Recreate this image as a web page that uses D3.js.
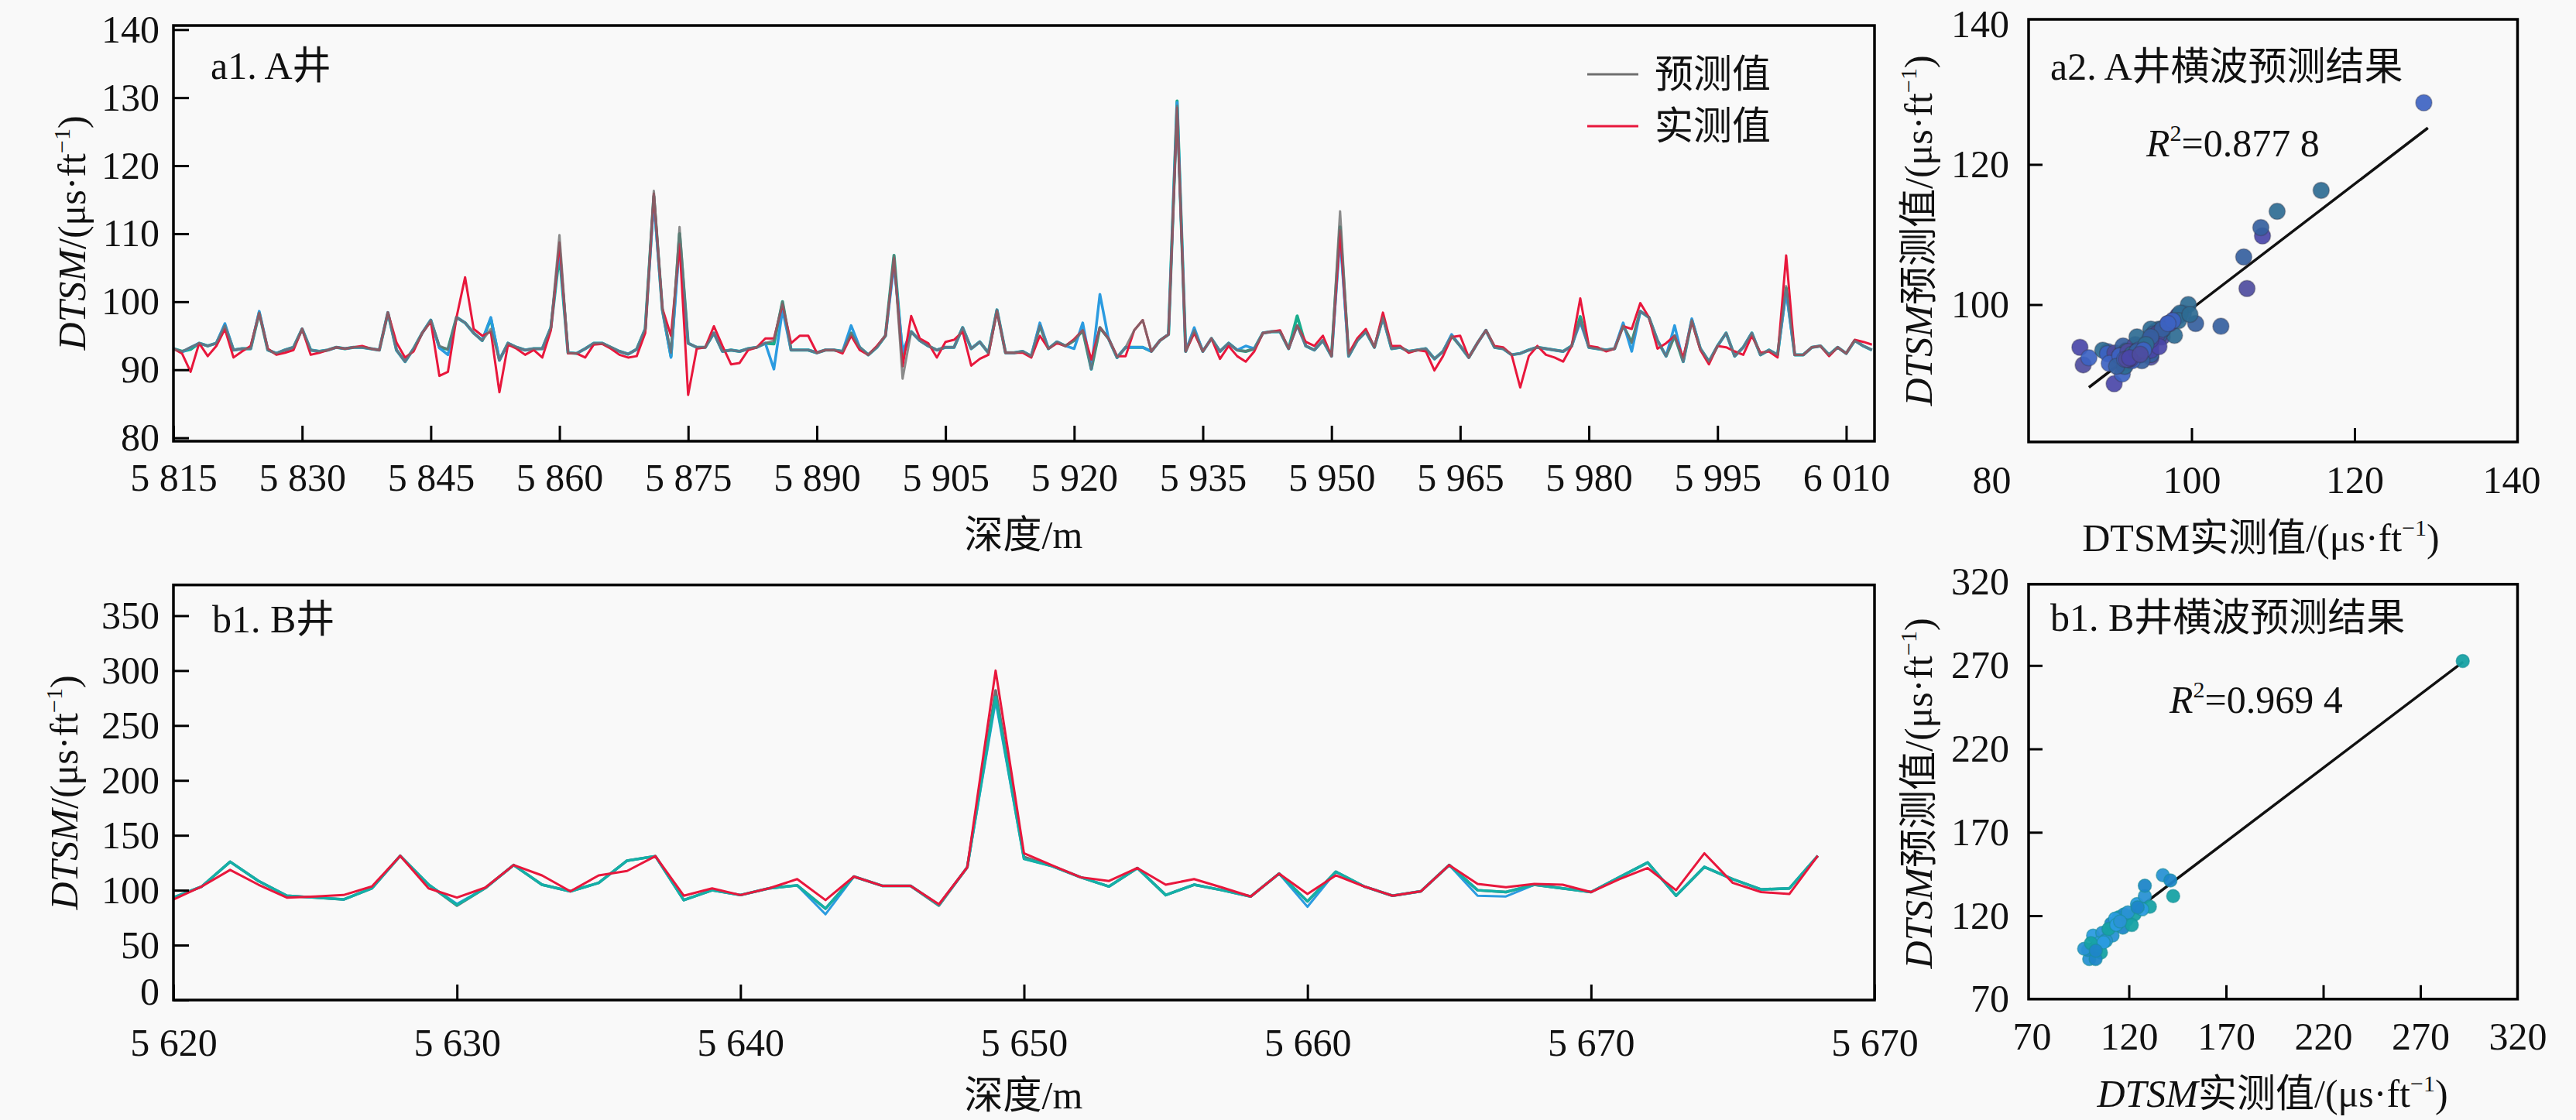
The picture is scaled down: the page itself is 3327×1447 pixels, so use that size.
<!DOCTYPE html>
<html>
<head>
<meta charset="utf-8">
<script src="https://cdn.jsdelivr.net/npm/d3@7"></script>
<style>
  body { margin: 0; background: #f9f9f9; }
  svg { display: block; font-family: "Liberation Serif", "Times New Roman", "DejaVu Serif", "Noto Sans CJK SC", serif; }
</style>
</head>
<body>
<script>
// ---- A井 (1 m 采样, 从 5815 m 起) ----
const startA = 5815
const measA = [
  93.1,92.4,89.7,93.9,92.0,93.5,96.0,91.8,92.7,93.5,
  98.3,93.1,92.2,92.5,92.9,96.0,92.2,92.5,92.9,93.3,
  93.1,93.3,93.5,93.1,92.9,98.4,94.0,91.8,92.7,95.4,
  97.1,89.1,89.7,97.7,103.6,96.0,95.0,95.6,86.7,93.7,
  93.1,92.2,92.9,91.8,95.8,108.7,92.4,92.4,91.8,93.7,
  93.8,93.1,92.2,91.8,92.0,95.4,115.9,99.0,95.0,108.5,
  86.3,93.1,93.3,96.4,93.5,90.8,91.0,92.9,93.3,94.6,
  94.6,99.6,93.9,95.0,95.0,92.5,92.9,92.9,92.4,95.0,
  92.9,92.2,93.5,95.0,106.4,90.5,97.9,94.6,93.9,91.8,
  94.1,94.4,95.6,90.6,91.6,92.2,98.6,92.5,92.5,92.5,
  91.8,95.0,93.1,93.9,93.5,94.5,95.8,91.5,96.2,94.6,
  92.0,92.0,95.8,97.3,92.7,94.3,95.2,128.5,92.7,95.4,
  92.7,94.6,91.6,93.5,92.0,91.2,92.7,95.4,95.6,95.8,
  93.1,96.5,94.1,93.5,95.0,92.0,110.5,92.4,94.6,96.0,
  93.3,98.4,93.5,93.5,92.5,92.9,92.7,89.9,92.0,94.8,
  95.0,91.8,93.9,95.8,93.5,93.3,92.2,87.4,92.0,93.5,
  92.2,91.8,91.2,93.5,100.5,93.5,93.3,92.7,93.1,96.4,
  96.0,99.8,97.7,93.1,93.9,95.0,91.8,97.1,92.9,90.8,
  93.5,93.3,92.7,92.2,95.0,92.5,92.7,91.8,106.8,92.2,
  92.2,93.3,93.5,92.0,93.3,92.4,94.4,94.1,93.7
]
const predA = [
  93.1,92.7,93.3,93.9,93.5,93.9,96.5,92.9,93.1,93.1,
  98.4,92.9,92.4,92.9,93.3,96.0,92.9,92.7,92.9,93.3,
  93.1,93.3,93.3,93.1,92.9,98.4,92.9,91.2,93.1,95.4,
  97.3,93.5,93.0,97.7,96.9,95.4,94.3,96.0,91.4,93.9,
  93.3,92.9,93.1,93.1,96.2,109.8,92.5,92.4,93.1,93.9,
  93.9,93.3,92.7,92.3,93.0,96.0,116.3,98.8,92.5,111.0,
  93.9,93.3,93.3,95.4,92.7,92.9,92.7,93.1,93.3,93.9,
  94.3,100.0,92.9,92.9,92.9,92.5,92.9,92.9,92.7,95.4,
  93.3,92.2,93.3,95.0,106.8,88.7,95.6,94.3,93.5,92.9,
  93.3,93.3,96.2,93.1,94.1,92.5,98.8,92.5,92.5,92.7,
  92.0,96.5,93.1,94.1,93.5,94.3,95.8,90.1,96.2,94.6,
  91.8,93.3,95.8,97.3,92.7,94.3,95.2,128.8,92.7,95.8,
  92.7,94.6,92.7,93.9,92.9,92.7,93.1,95.4,95.6,95.6,
  93.1,96.5,93.5,92.9,94.3,92.0,113.3,92.0,94.3,95.6,
  93.3,97.7,93.1,93.3,92.7,92.9,93.1,91.6,92.7,95.0,
  93.5,91.8,93.9,95.8,93.3,93.1,92.2,92.4,92.9,93.3,
  93.1,92.9,92.7,93.5,97.3,93.3,93.1,92.9,93.1,96.5,
  94.0,98.6,97.7,94.3,92.0,95.0,91.2,97.3,93.1,91.2,
  93.5,95.4,92.0,93.3,95.4,92.2,92.9,92.2,102.3,92.2,
  92.2,93.3,93.5,92.2,93.3,92.4,94.3,93.5,92.9
]
// the two coloured traces that sit under the grey one
const blueA = [
  93.1,92.6,93.3,93.9,93.5,93.9,96.8,92.9,93.1,93.1,
  98.6,92.9,92.4,92.9,93.3,96.0,92.9,92.7,92.9,93.3,
  93.1,93.3,93.3,93.1,92.9,98.4,92.9,91.2,93.1,95.4,
  97.3,93.2,92.2,97.7,96.9,95.4,94.3,97.7,91.4,93.9,
  93.3,92.9,93.1,93.1,96.2,108.0,92.5,92.4,93.1,93.9,
  93.9,93.3,92.7,92.3,93.0,96.0,115.0,98.8,91.8,108.5,
  93.9,93.3,93.3,95.4,92.7,92.9,92.7,93.1,93.3,93.9,
  90.1,98.8,92.9,92.9,92.9,92.5,92.9,92.9,92.7,96.5,
  93.3,92.2,93.3,95.0,105.5,92.7,95.6,94.3,93.5,92.9,
  93.3,93.3,96.2,93.1,94.1,92.5,98.8,92.5,92.5,92.7,
  92.0,96.9,93.1,94.1,93.5,93.1,96.9,90.1,101.1,94.6,
  91.8,93.3,93.3,93.3,92.7,94.3,95.2,129.3,92.7,96.2,
  92.7,94.6,92.7,93.9,92.9,93.5,93.1,95.4,95.6,95.6,
  93.1,96.5,93.5,92.9,94.3,92.0,109.5,92.0,94.3,95.6,
  93.3,97.7,93.1,93.3,92.7,92.9,93.1,91.6,92.7,95.2,
  93.5,91.8,93.9,95.8,93.3,93.1,92.2,92.4,92.9,93.3,
  93.1,92.9,92.7,93.5,97.0,93.3,93.1,92.9,93.1,96.9,
  92.7,98.6,97.7,94.3,92.0,96.5,91.2,97.5,93.1,91.2,
  93.5,95.4,92.0,93.3,95.4,92.2,92.9,92.2,101.5,92.2,
  92.2,93.3,93.5,92.2,93.3,92.4,94.3,93.5,92.9
]
const greenA = [
  93.1,92.7,93.0,93.9,93.5,93.9,96.5,92.9,93.1,93.1,
  98.4,92.9,92.4,92.9,93.3,96.0,92.9,92.7,92.9,93.3,
  93.1,93.3,93.3,93.1,92.9,98.4,92.9,91.2,93.1,95.4,
  97.3,93.3,93.0,97.7,96.9,95.4,94.3,97.5,91.4,93.9,
  93.3,92.9,93.1,93.1,96.2,107.0,92.5,92.4,93.1,93.9,
  93.9,93.3,92.7,92.3,93.0,96.0,115.5,98.8,92.0,110.0,
  93.9,93.3,93.3,95.4,92.7,92.9,92.7,93.1,93.3,93.9,
  93.8,100.0,92.9,92.9,92.9,92.5,92.9,92.9,92.7,95.4,
  93.3,92.2,93.3,95.0,106.8,92.0,95.6,94.3,93.5,92.9,
  93.3,93.3,96.2,93.1,94.1,92.5,98.8,92.5,92.5,92.7,
  92.0,96.5,93.1,94.1,93.5,94.3,95.8,90.1,96.2,94.6,
  91.8,93.3,93.3,93.3,92.7,94.3,95.2,129.5,92.7,95.8,
  92.7,94.6,92.7,93.9,92.9,92.7,93.1,95.4,95.6,95.6,
  93.1,97.9,93.5,92.9,94.3,92.0,111.0,92.0,94.3,95.6,
  93.3,97.7,93.1,93.3,92.7,92.9,93.1,91.6,92.7,95.0,
  93.5,91.8,93.9,95.8,93.3,93.1,92.2,92.4,92.9,93.3,
  93.1,92.9,92.7,93.5,97.8,93.3,93.1,92.9,93.1,96.5,
  94.0,98.6,97.7,94.3,92.0,95.0,91.2,97.3,93.1,91.2,
  93.5,95.4,92.0,93.3,95.4,92.2,92.9,92.2,102.0,92.2,
  92.2,93.3,93.5,92.2,93.3,92.4,94.3,93.5,92.9
]

// ---- B井 (1 m 采样, 从 5620 m 起) ----
const startB = 5620
const measB = [
  91.6,103.4,118.5,105.0,93.3,94.3,95.6,103.4,131.3,101.7,
  93.3,102.4,122.9,113.5,99.0,113.5,117.5,131.0,95.0,101.7,
  95.6,101.7,110.1,91.0,112.4,104.0,104.0,87.2,120.9,300.0,
  133.6,122.5,111.8,108.4,120.2,105.0,110.1,102.4,94.3,115.1,
  96.6,113.5,103.4,95.0,99.0,122.9,105.7,102.7,105.7,105.0,
  98.3,110.1,120.2,100.0,133.6,106.7,98.3,96.6,131.3
]
const predB = [
  93.3,103.4,125.9,108.4,95.0,93.3,91.6,101.7,131.3,105.0,
  86.0,102.0,122.9,105.0,99.0,106.7,126.9,131.0,91.0,100.0,
  95.6,101.7,104.4,83.2,112.4,104.0,104.0,86.0,120.9,282.0,
  130.3,121.9,111.8,103.4,120.2,95.6,105.0,100.0,94.3,115.1,
  89.9,116.8,103.4,95.0,99.0,122.9,100.0,98.3,105.0,101.7,
  98.3,111.8,125.2,95.0,121.2,110.1,100.7,101.7,131.3
]
const greenB = [
  93.3,103.4,125.9,108.4,95.0,93.3,91.6,101.7,131.3,105.0,
  86.5,102.0,122.9,105.0,99.0,106.7,126.9,131.0,91.0,100.0,
  95.6,101.7,104.4,83.2,112.4,104.0,104.0,86.5,120.9,276.0,
  128.6,121.9,111.8,103.4,120.2,95.6,105.0,100.0,94.3,115.1,
  89.9,116.8,103.4,95.0,99.0,122.9,100.0,98.3,105.0,101.7,
  98.3,111.8,125.2,95.0,121.2,110.1,100.7,101.7,131.3
]
const blueB = [
  93.3,103.4,125.9,108.4,95.0,93.3,91.6,101.7,131.3,105.0,
  87.5,102.0,122.9,105.0,99.0,106.7,126.9,131.0,91.0,100.0,
  95.6,101.7,104.4,78.1,112.4,104.0,104.0,86.5,120.9,272.0,
  128.6,121.9,111.8,103.4,120.2,95.6,105.0,100.0,94.3,115.1,
  84.9,116.8,103.4,95.0,99.0,122.9,95.0,94.3,105.0,101.7,
  98.3,111.8,125.2,95.0,121.2,110.1,100.7,101.7,131.3
]

// ---- B井 交会图 (实测, 预测) ----
const measBs = [99.6,99.0,105.6,101.6,106.3,110.9,114.9,118.9,111.6,116.9,122.9,124.2,128.2,128.2,130.8,126.9,137.5,141.4,142.8,104.3,108.2,117.4,121.5,112.9,97.0,102.9,109.5,113.5,119.5,124.5,100.5,107.0,115.5,103.0,291.8]
const predBs = [94.0,99.5,97.9,108.1,109.7,115.2,119.1,117.5,108.1,112.8,120.7,127.0,131.7,138.0,125.4,123.8,144.3,141.1,131.7,103.4,105.0,120.7,114.4,118.3,100.2,94.0,112.0,114.5,122.0,125.0,103.5,104.0,116.5,99.0,272.7]

// 拟合直线 (斜率, 截距) 与端点
const fitA = [0.89, 10.4], fitXA = [87.4, 129.0]
const fitB = [0.883, 14.3], fitXB = [98.0, 292.0]

// ticks
const ticksXA = [5815,5830,5845,5860,5875,5890,5905,5920,5935,5950,5965,5980,5995,6010]
const ticksYA = [80,90,100,110,120,130,140]
const ticksXB = [5620,5630,5640,5650,5660,5670,5680]
const labelsXB = ["5 620","5 630","5 640","5 650","5 660","5 670","5 670"]
const ticksYB = [0,50,100,150,200,250,300,350]
const ticksSA = [80,100,120,140]
const ticksSB = [70,120,170,220,270,320]

const depthA = d3.range(startA, startA + predA.length)
const depthB = d3.range(startB, startB + measB.length)

const W = 3327, H = 1447
const svg = d3.select("body").append("svg").attr("width", W).attr("height", H)

const spaced = d3.formatLocale({ decimal: ".", thousands: " ", grouping: [3], currency: ["", ""] }).format(",")
const serif = "Liberation Serif, Times New Roman, DejaVu Serif, serif"

const C = { red: "#e8173c", gray: "#6f6f6f", blue: "#2b9be0", green: "#19ad8c", teal: "#14b0a6" }

// titles with italic part and superscript
function unitText(g, parts) {
  const t = g.append("text").attr("font-size", 50).attr("fill", "#111")
  parts.forEach(p => {
    const s = t.append("tspan").text(p.t)
    if (p.it) s.attr("font-style", "italic")
    if (p.sup) s.attr("font-size", 30).attr("dy", -20)
    if (p.down) s.attr("dy", 20)
  })
  return t
}
const unitParts = [{ t: "/(μs·ft" }, { t: "−1", sup: true }, { t: ")", down: true }]

function frame(x0, y0, x1, y1) {
  svg.append("rect").attr("x", x0).attr("y", y0).attr("width", x1 - x0).attr("height", y1 - y0)
    .attr("fill", "none").attr("stroke", "#000").attr("stroke-width", 3.5)
}

function axes(x, y, xt, yt, opts) {
  const [x0, x1] = x.range(), [y1, y0] = y.range()
  const gx = svg.append("g").attr("transform", `translate(0,${y1})`)
    .call(d3.axisBottom(x).tickValues(xt).tickSizeInner(-opts.tick).tickSizeOuter(0)
      .tickPadding(opts.padX).tickFormat(opts.fx))
  const gy = svg.append("g").attr("transform", `translate(${x0},0)`)
    .call(d3.axisLeft(y).tickValues(yt).tickSizeInner(-opts.tick).tickSizeOuter(0)
      .tickPadding(opts.padY).tickFormat(opts.fy))
  ;[gx, gy].forEach(g => {
    g.attr("font-family", serif)
    g.select(".domain").remove()
    g.selectAll("line").attr("stroke", "#000").attr("stroke-width", 3)
    g.selectAll("text").attr("font-size", 50).attr("fill", "#111")
  })
  frame(x0, y0, x1, y1)
  return { gx, gy }
}

function drawLine(x, y, depth, vals, color, w, op) {
  svg.append("path").datum(vals)
    .attr("fill", "none").attr("stroke", color).attr("stroke-width", w)
    .attr("stroke-opacity", op || 1)
    .attr("stroke-linejoin", "round")
    .attr("d", d3.line().x((d, i) => x(depth[i])).y(d => y(d)))
}

// ===== a1 =====
const xA = d3.scaleLinear([5815, 6013.3], [224, 2421])
const yA = d3.scaleLinear([79.5, 140.6], [570, 33])
drawLine(xA, yA, depthA, greenA, C.green, 4)
drawLine(xA, yA, depthA, blueA, C.blue, 3.5)
drawLine(xA, yA, depthA, measA, C.red, 3)
drawLine(xA, yA, depthA, predA, C.gray, 3, 0.8)
axes(xA, yA, ticksXA, ticksYA, { tick: 20, padX: 28, padY: 18, fx: spaced, fy: d3.format("d") })

svg.append("text").attr("x", 272).attr("y", 102).attr("font-size", 50).attr("fill", "#111").text("a1. A井")

const yTitleA = svg.append("g").attr("transform", "translate(110,301) rotate(-90)")
unitText(yTitleA, [{ t: "DTSM", it: true }, ...unitParts]).attr("text-anchor", "middle")
svg.append("text").attr("x", 1322).attr("y", 708).attr("text-anchor", "middle")
  .attr("font-size", 50).attr("fill", "#111").text("深度/m")

// legend
const legend = [{ name: "预测值", color: C.gray, y: 96 }, { name: "实测值", color: C.red, y: 163 }]
legend.forEach(l => {
  svg.append("line").attr("x1", 2050).attr("x2", 2116).attr("y1", l.y).attr("y2", l.y)
    .attr("stroke", l.color).attr("stroke-width", 3)
  svg.append("text").attr("x", 2137).attr("y", l.y).attr("dominant-baseline", "central")
    .attr("font-size", 50).attr("fill", "#111").text(l.name)
})

// ===== b1 line =====
const xB = d3.scaleLinear([5620, 5680], [224, 2421])
const yB = d3.scaleLinear([0, 378], [1292, 755.7])
drawLine(xB, yB, depthB, predB, C.gray, 3.5)
drawLine(xB, yB, depthB, blueB, C.blue, 3)
drawLine(xB, yB, depthB, greenB, C.teal, 3.5)
drawLine(xB, yB, depthB, measB, C.red, 3)
const axLB = axes(xB, yB, ticksXB, ticksYB, { tick: 20, padX: 36, padY: 18, fx: (d, i) => labelsXB[i], fy: d3.format("d") })
axLB.gy.selectAll(".tick").filter(d => d === 0).select("text").attr("dy", "0.1em")

svg.append("text").attr("x", 274).attr("y", 817).attr("font-size", 50).attr("fill", "#111").text("b1. B井")
const yTitleB = svg.append("g").attr("transform", "translate(100,1024) rotate(-90)")
unitText(yTitleB, [{ t: "DTSM", it: true }, ...unitParts]).attr("text-anchor", "middle")
svg.append("text").attr("x", 1322).attr("y", 1432).attr("text-anchor", "middle")
  .attr("font-size", 50).attr("fill", "#111").text("深度/m")

// ===== a2 scatter =====
const palA = ["#4a47a8", "#2e6b93", "#3d63c2", "#4e4c9e", "#355f9e"]
const xSA = d3.scaleLinear([80, 140], [2620, 3251.5])
const ySA = d3.scaleLinear([80.4, 140.7], [571, 25])
const axA = axes(xSA, ySA, ticksSA, ticksSA.slice(1), { tick: 18, padX: 30, padY: 25, fx: d3.format("d"), fy: d3.format("d") })
axA.gx.selectAll(".tick").filter(d => d === 80).select("line").remove()
axA.gx.selectAll(".tick").filter(d => d === 80).select("text").attr("dx", -48)
axA.gx.selectAll(".tick").filter(d => d === 140).select("line").remove()
axA.gx.selectAll(".tick").filter(d => d === 140).select("text").attr("dx", -8)
axA.gy.selectAll(".tick").filter(d => d === 140).select("line").remove()
svg.append("line")
  .attr("x1", xSA(fitXA[0])).attr("y1", ySA(fitA[0] * fitXA[0] + fitA[1]))
  .attr("x2", xSA(fitXA[1])).attr("y2", ySA(fitA[0] * fitXA[1] + fitA[1]))
  .attr("stroke", "#111").attr("stroke-width", 3.5)
svg.append("g").selectAll("circle").data(measA).join("circle")
  .attr("cx", d => xSA(d)).attr("cy", (d, i) => ySA(predA[i])).attr("r", 10.5)
  .attr("fill", (d, i) => palA[i % palA.length]).attr("fill-opacity", 0.92)
  .attr("stroke", "#3a3a4a").attr("stroke-opacity", 0.35).attr("stroke-width", 1.5)

svg.append("text").attr("x", 2648).attr("y", 103).attr("font-size", 50).attr("fill", "#111").text("a2. A井横波预测结果")
const r2A = svg.append("text").attr("x", 2772).attr("y", 202).attr("font-size", 50).attr("fill", "#111")
r2A.append("tspan").attr("font-style", "italic").text("R")
r2A.append("tspan").attr("font-size", 30).attr("dy", -20).text("2")
r2A.append("tspan").attr("dy", 20).text("=0.877 8")
const yTitleSA = svg.append("g").attr("transform", "translate(2495,298) rotate(-90)")
unitText(yTitleSA, [{ t: "DTSM", it: true }, { t: "预测值" }, ...unitParts]).attr("text-anchor", "middle")
unitText(svg.append("g"), [{ t: "DTSM" }, { t: "实测值" }, ...unitParts])
  .attr("x", 2920).attr("y", 712).attr("text-anchor", "middle")

// ===== b1 scatter =====
const palB = ["#2a92d4", "#1f86c8", "#17a2a4", "#2b9be0"]
const xSB = d3.scaleLinear([68.4, 320], [2620, 3251.5])
const ySB = d3.scaleLinear([70, 318.7], [1290.8, 754.8])
const axB = axes(xSB, ySB, ticksSB, ticksSB, { tick: 18, padX: 30, padY: 25, fx: d3.format("d"), fy: d3.format("d") })
axB.gx.selectAll(".tick").filter(d => d === 70 || d === 320).select("line").remove()
axB.gy.selectAll(".tick").filter(d => d === 70 || d === 320).select("line").remove()
svg.append("line")
  .attr("x1", xSB(fitXB[0])).attr("y1", ySB(fitB[0] * fitXB[0] + fitB[1]))
  .attr("x2", xSB(fitXB[1])).attr("y2", ySB(fitB[0] * fitXB[1] + fitB[1]))
  .attr("stroke", "#111").attr("stroke-width", 3.5)
svg.append("g").selectAll("circle").data(measBs).join("circle")
  .attr("cx", d => xSB(d)).attr("cy", (d, i) => ySB(predBs[i])).attr("r", 8.5)
  .attr("fill", (d, i) => palB[i % palB.length]).attr("fill-opacity", 0.95)
  .attr("stroke", "#1a8f9a").attr("stroke-opacity", 0.6).attr("stroke-width", 1.5)

svg.append("text").attr("x", 2648).attr("y", 815).attr("font-size", 50).attr("fill", "#111").text("b1. B井横波预测结果")
const r2B = svg.append("text").attr("x", 2802).attr("y", 921).attr("font-size", 50).attr("fill", "#111")
r2B.append("tspan").attr("font-style", "italic").text("R")
r2B.append("tspan").attr("font-size", 30).attr("dy", -20).text("2")
r2B.append("tspan").attr("dy", 20).text("=0.969 4")
const yTitleSB = svg.append("g").attr("transform", "translate(2495,1025) rotate(-90)")
unitText(yTitleSB, [{ t: "DTSM", it: true }, { t: "预测值" }, ...unitParts]).attr("text-anchor", "middle")
unitText(svg.append("g"), [{ t: "DTSM", it: true }, { t: "实测值" }, ...unitParts])
  .attr("x", 2935).attr("y", 1430).attr("text-anchor", "middle")
</script>
</body>
</html>
